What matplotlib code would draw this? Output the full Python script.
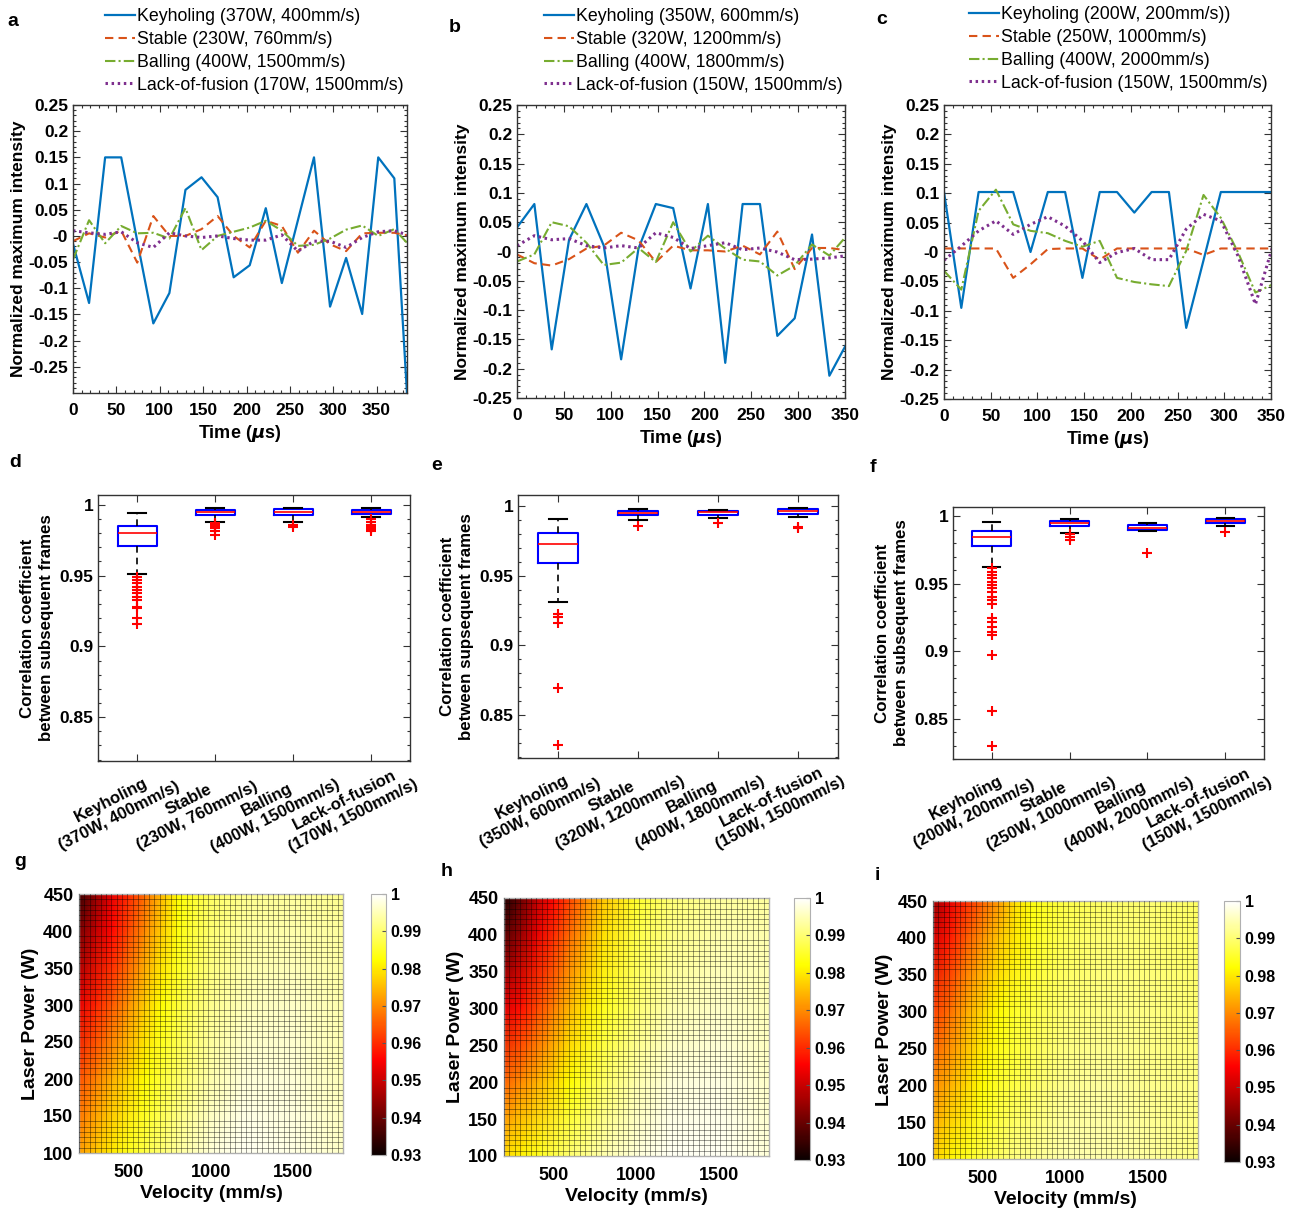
import matplotlib
matplotlib.use('Agg')
import matplotlib.pyplot as plt
import numpy as np
from matplotlib.ticker import FuncFormatter, MultipleLocator, FixedLocator
from matplotlib.transforms import offset_copy

plt.rcParams['font.family'] = 'Liberation Sans'
plt.rcParams['font.weight'] = 'bold'
plt.rcParams['axes.labelweight'] = 'bold'

# ---------------- data ----------------
frame_us = 1e6 / 54000.0   # one frame every ~18.5 us

modes = ['Keyholing', 'Stable', 'Balling', 'Lack-of-fusion']
params_a = ['(370W, 400mm/s)', '(230W, 760mm/s)', '(400W, 1500mm/s)', '(170W, 1500mm/s)']
params_b = ['(350W, 600mm/s)', '(320W, 1200mm/s)', '(400W, 1800mm/s)', '(150W, 1500mm/s)']
params_c = ['(200W, 200mm/s))', '(250W, 1000mm/s)', '(400W, 2000mm/s)', '(150W, 1500mm/s)']
params_c_box = ['(200W, 200mm/s)', '(250W, 1000mm/s)', '(400W, 2000mm/s)', '(150W, 1500mm/s)']

a_key = [-0.015, -0.128, 0.150, 0.150, -0.010, -0.167, -0.109, 0.088, 0.112, 0.074, -0.079,
         -0.056, 0.053, -0.090, 0.030, 0.150, -0.135, -0.042, -0.149, 0.150, 0.110, -0.410]
a_stable = [-0.010, 0.005, -0.003, 0.010, -0.051, 0.038, 0.000, 0.000, 0.013, 0.038, 0.000,
            -0.022, 0.029, 0.019, -0.032, 0.010, -0.016, -0.029, 0.005, 0.006, 0.006, 0.000]
a_ball = [-0.045, 0.030, -0.014, 0.019, 0.005, 0.006, -0.005, 0.053, -0.027, 0.000, 0.008,
          0.016, 0.029, 0.010, -0.019, -0.017, -0.005, 0.012, 0.020, 0.000, 0.013, -0.020]
a_lof = [0.010, 0.006, 0.003, 0.008, -0.013, -0.022, 0.006, 0.000, -0.003, 0.000, -0.005,
         -0.008, -0.008, 0.002, -0.029, -0.010, -0.010, -0.022, -0.003, 0.008, 0.010, 0.000]

b_key = [0.041, 0.081, -0.167, 0.020, 0.081, 0.010, -0.184, 0.005, 0.081, 0.074,
         -0.063, 0.081, -0.190, 0.081, 0.081, -0.144, -0.114, 0.029, -0.212, -0.157]
b_stable = [-0.005, -0.020, -0.024, -0.013, 0.005, 0.010, 0.032, 0.019, -0.018, 0.010,
            0.002, 0.002, 0.000, 0.010, -0.005, 0.034, -0.030, 0.006, 0.006, 0.002]
b_ball = [-0.017, -0.005, 0.050, 0.043, 0.015, -0.023, -0.019, 0.006, -0.018, 0.050,
          0.000, 0.027, 0.005, -0.014, -0.017, -0.041, -0.024, 0.012, -0.007, 0.027]
b_lof = [0.010, 0.027, 0.020, 0.022, 0.010, 0.006, 0.010, 0.006, 0.032, 0.024,
         0.005, 0.010, 0.015, 0.003, 0.006, -0.001, -0.014, -0.013, -0.011, -0.007]

c_key = [0.102, -0.095, 0.102, 0.102, 0.102, 0.000, 0.102, 0.102, -0.044, 0.102,
         0.102, 0.067, 0.102, 0.102, -0.129, -0.014, 0.102, 0.102, 0.102, 0.102]
c_stable = [0.006, 0.006, 0.006, 0.006, -0.044, -0.021, 0.005, 0.006, 0.006, -0.013,
            0.006, 0.006, 0.006, 0.006, 0.006, -0.005, 0.006, 0.006, 0.006, 0.006]
c_ball = [-0.032, -0.064, 0.070, 0.106, 0.047, 0.036, 0.032, 0.019, 0.009, 0.019,
          -0.044, -0.051, -0.055, -0.058, 0.002, 0.097, 0.058, -0.001, -0.069, -0.055]
c_lof = [-0.014, 0.010, 0.036, 0.053, 0.030, 0.047, 0.060, 0.044, 0.019, -0.018,
         -0.001, 0.006, -0.013, -0.013, 0.039, 0.064, 0.053, -0.007, -0.089, 0.010]

# box stats: (median, q1, q3, whisker low, whisker high, outliers)
d_stats = [(0.9804, 0.9712, 0.9854, 0.9514, 0.9941,
            [0.9493, 0.9469, 0.9445, 0.9422, 0.9398, 0.9375, 0.9352, 0.9328, 0.9281, 0.9269, 0.9198, 0.9158]),
           (0.9950, 0.9929, 0.9965, 0.9877, 0.9981, [0.9870, 0.9862, 0.9855, 0.9847, 0.9835, 0.9818, 0.9788]),
           (0.9953, 0.9929, 0.9969, 0.9882, 0.9981, [0.9858, 0.9847]),
           (0.9950, 0.9934, 0.9962, 0.9917, 0.9976, [0.9899, 0.9882, 0.9858, 0.9847, 0.9835, 0.9828, 0.9818])]
e_stats = [(0.9725, 0.9593, 0.9804, 0.9311, 0.9911, [0.9222, 0.9206, 0.9158, 0.8691, 0.8280]),
           (0.9952, 0.9933, 0.9964, 0.9900, 0.9976, [0.9856]),
           (0.9957, 0.9935, 0.9967, 0.9916, 0.9974, [0.9880]),
           (0.9967, 0.9947, 0.9976, 0.9921, 0.9983, [0.9852, 0.9845])]
f_stats = [(0.9847, 0.9778, 0.9891, 0.9619, 0.9956,
            [0.9612, 0.9587, 0.9563, 0.9538, 0.9513, 0.9488, 0.9464, 0.9439, 0.9402, 0.9377,
             0.9348, 0.9241, 0.9216, 0.9179, 0.9142, 0.9118, 0.8969, 0.8557, 0.8295]),
           (0.9951, 0.9926, 0.9965, 0.9876, 0.9978, [0.9864, 0.9842, 0.9822]),
           (0.9913, 0.9896, 0.9936, 0.9891, 0.9951, [0.9728]),
           (0.9960, 0.9946, 0.9975, 0.9928, 0.9983, [0.9884])]

# correlation maps read at these velocities / powers
velocity = [200, 300, 400, 500, 600, 700, 800, 1000, 1200, 1500, 1800]
power = [100, 200, 300, 400, 450]
g_corr = [[0.972, 0.976, 0.980, 0.984, 0.987, 0.990, 0.993, 0.997, 0.999, 0.998, 0.996],
          [0.964, 0.969, 0.974, 0.978, 0.982, 0.986, 0.989, 0.994, 0.997, 0.997, 0.995],
          [0.953, 0.959, 0.965, 0.971, 0.977, 0.982, 0.986, 0.992, 0.995, 0.996, 0.994],
          [0.942, 0.949, 0.956, 0.963, 0.970, 0.977, 0.983, 0.990, 0.993, 0.994, 0.993],
          [0.935, 0.944, 0.953, 0.960, 0.967, 0.975, 0.982, 0.989, 0.992, 0.993, 0.992]]
h_corr = [[0.978, 0.981, 0.984, 0.987, 0.990, 0.992, 0.994, 0.997, 0.999, 0.999, 0.997],
          [0.966, 0.970, 0.974, 0.978, 0.982, 0.986, 0.989, 0.994, 0.997, 0.998, 0.996],
          [0.952, 0.957, 0.963, 0.969, 0.975, 0.980, 0.984, 0.990, 0.994, 0.996, 0.995],
          [0.938, 0.945, 0.953, 0.960, 0.967, 0.973, 0.979, 0.987, 0.991, 0.994, 0.994],
          [0.932, 0.940, 0.949, 0.956, 0.963, 0.970, 0.976, 0.985, 0.990, 0.993, 0.993]]
i_corr = [[0.977, 0.981, 0.984, 0.987, 0.989, 0.991, 0.992, 0.994, 0.994, 0.993, 0.991],
          [0.970, 0.974, 0.978, 0.982, 0.985, 0.987, 0.989, 0.992, 0.993, 0.992, 0.991],
          [0.962, 0.967, 0.973, 0.978, 0.982, 0.985, 0.987, 0.990, 0.991, 0.991, 0.990],
          [0.951, 0.958, 0.965, 0.971, 0.976, 0.980, 0.984, 0.988, 0.990, 0.990, 0.989],
          [0.945, 0.953, 0.960, 0.966, 0.972, 0.979, 0.983, 0.987, 0.989, 0.990, 0.989]]

# ---------------- figure ----------------
W, H = 1295, 1213
fig = plt.figure(figsize=(W / 100, H / 100), dpi=100)


def px_axes(l, t, r, b):
    return fig.add_axes([l / W, 1 - b / H, (r - l) / W, (b - t) / H])


gfmt = FuncFormatter(lambda v, pos: '%g' % round(v, 4))
colors = ['#0072BD', '#D95319', '#77AC30', '#7E2F8E']
styles = [dict(ls='-', lw=1.6), dict(ls=(0, (4, 2.5)), lw=1.5),
          dict(ls=(0, (5, 1.5, 1, 1.5)), lw=1.5), dict(ls=(0, (0.8, 1.2)), lw=2.2)]


def style_ax(ax, size=12.5):
    ax.tick_params(which='both', direction='in', top=True, right=True, labelsize=size,
                   color='#333333', width=0.8)
    ax.tick_params(which='major', length=5)
    ax.tick_params(which='minor', length=2.5)
    ax.tick_params(axis='x', pad=7)
    for s in ax.spines.values():
        s.set_color('#333333')
        s.set_linewidth(1.0)


def series_panel(box, series, labels, xmax, ymin, leg_xy):
    ax = px_axes(*box)
    t = np.arange(len(series[0])) * frame_us
    lines = []
    for y, c, st, lab in zip(series, colors, styles, labels):
        ln, = ax.plot(t, y, color=c, label=lab, **st)
        lines.append(ln)
    ax.set_xlim(0, xmax)
    ax.set_ylim(ymin, 0.25)
    ax.xaxis.set_major_locator(MultipleLocator(50))
    ax.xaxis.set_minor_locator(MultipleLocator(10))
    ax.yaxis.set_major_locator(FixedLocator(np.round(np.arange(-0.25, 0.26, 0.05), 2)))
    ax.yaxis.set_minor_locator(MultipleLocator(0.01))
    ax.yaxis.set_major_formatter(gfmt)
    style_ax(ax)
    ax.set_xlabel(r'Time ($\mu$s)', fontsize=13, labelpad=4)
    ax.set_ylabel('Normalized maximum intensity', fontsize=12.5, labelpad=2)
    ax.legend(handles=lines, loc='upper left', bbox_to_anchor=(leg_xy[0] / W, 1 - leg_xy[1] / H),
              bbox_transform=fig.transFigure, frameon=False, prop={'weight': 'normal', 'size': 12.8},
              handlelength=1.7, handletextpad=0.1, borderpad=0, borderaxespad=0, labelspacing=0.33)
    return ax


series_panel((73, 105, 407, 393), [a_key, a_stable, a_ball, a_lof],
             [m + ' ' + p for m, p in zip(modes, params_a)], 385, -0.2999, (105, 8))
series_panel((517, 105, 845, 398), [b_key, b_stable, b_ball, b_lof],
             [m + ' ' + p for m, p in zip(modes, params_b)], 350, -0.25, (544, 8))
series_panel((944, 105, 1271, 399), [c_key, c_stable, c_ball, c_lof],
             [m + ' ' + p for m, p in zip(modes, params_c)], 350, -0.25, (969, 6))


def box_panel(box, stats, params, ylim, ylabel):
    ax = px_axes(*box)
    bx = [dict(med=s[0], q1=s[1], q3=s[2], whislo=s[3], whishi=s[4], fliers=s[5]) for s in stats]
    ax.bxp(bx, positions=[1, 2, 3, 4], widths=0.5, capwidths=0.22,
           boxprops=dict(color='#0000ff', lw=1.5),
           medianprops=dict(color='#ff0000', lw=1.2),
           whiskerprops=dict(color='black', lw=1.2, linestyle=(0, (4, 3))),
           capprops=dict(color='black', lw=1.5),
           flierprops=dict(marker='+', markeredgecolor='#ff0000', markersize=7,
                           markeredgewidth=1.5, linestyle='none'))
    ax.set_xlim(0.5, 4.5)
    ax.set_ylim(*ylim)
    ax.set_xticks([1, 2, 3, 4])
    ax.set_xticklabels([])
    ax.yaxis.set_major_locator(FixedLocator([0.85, 0.9, 0.95, 1.0]))
    ax.yaxis.set_minor_locator(MultipleLocator(0.01))
    ax.yaxis.set_major_formatter(gfmt)
    style_ax(ax)
    ax.tick_params(axis='x', which='minor', bottom=False, top=False)
    tr = offset_copy(ax.get_xaxis_transform(), fig=fig, x=-22, y=-47, units='dots')
    for xpos, m, p in zip([1, 2, 3, 4], modes, params):
        ax.text(xpos, 0, m + '\n' + p, transform=tr, rotation=27, rotation_mode='anchor',
                ha='center', va='center', multialignment='center', fontsize=12, linespacing=1.25)
    ax.set_ylabel(ylabel, fontsize=12.2, labelpad=4, linespacing=1.3)
    return ax


box_panel((98, 495, 410, 761), d_stats, params_a, (0.819, 1.007),
          'Correlation coefficient\nbetween subsequent frames')
box_panel((518, 495, 838, 758), e_stats, params_b, (0.819, 1.008),
          'Correlation coefficient\nbetween supsequent frames')
box_panel((953, 507, 1264, 759), f_stats, params_c_box, (0.820, 1.0067),
          'Correlation coefficient\nbetween subsequent frames')


def map_panel(box, cbox, corr):
    ax = px_axes(*box)
    mesh = ax.pcolormesh(velocity, power, np.array(corr), shading='gouraud', cmap='hot',
                         vmin=0.93, vmax=1.0)
    ax.set_xlim(200, 1800)
    ax.set_ylim(100, 450)
    ax.set_xticks([500, 1000, 1500])
    ax.set_yticks([100, 150, 200, 250, 300, 350, 400, 450])
    ax.xaxis.set_minor_locator(FixedLocator(np.linspace(200, 1800, 50)))
    ax.yaxis.set_minor_locator(FixedLocator(np.linspace(100, 450, 50)))
    ax.grid(which='minor', color='black', lw=0.6, alpha=0.45)
    ax.set_axisbelow(False)
    ax.tick_params(which='both', length=0, labelsize=13, pad=4)
    ax.tick_params(axis='x', pad=8)
    for s in ax.spines.values():
        s.set_color('#b0b0b0')
        s.set_linewidth(1.0)
    ax.set_xlabel('Velocity (mm/s)', fontsize=14, labelpad=3)
    ax.set_ylabel('Laser Power (W)', fontsize=14, labelpad=3)
    cax = px_axes(*cbox)
    cb = fig.colorbar(mesh, cax=cax)
    cb.set_ticks([0.93, 0.94, 0.95, 0.96, 0.97, 0.98, 0.99, 1.0])
    cb.ax.yaxis.set_major_formatter(gfmt)
    cb.ax.tick_params(labelsize=11.5, length=3, direction='in', color='#555555')
    cb.outline.set_edgecolor('#b0b0b0')
    return ax


map_panel((79, 894, 343, 1153), (371, 894, 386, 1155), g_corr)
map_panel((504, 898, 769, 1156), (794, 898, 810, 1160), h_corr)
map_panel((933, 901, 1198, 1159), (1224, 901, 1240, 1162), i_corr)

for letter, x, y in [('a', 13, 22), ('b', 455, 28), ('c', 882, 20),
                     ('d', 15, 463), ('e', 437, 465), ('f', 873, 467),
                     ('g', 20, 862), ('h', 447, 872), ('i', 877, 875)]:
    fig.text(x / W, 1 - y / H, letter, fontsize=14, fontweight='bold', ha='center', va='center')

fig.savefig('out.png', dpi=100)
